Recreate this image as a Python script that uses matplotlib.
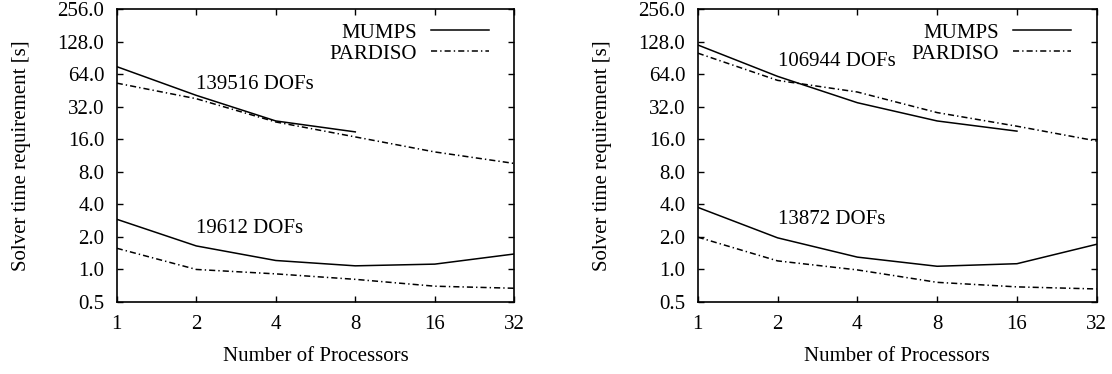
import matplotlib.pyplot as plt
from matplotlib.ticker import FixedLocator, FixedFormatter

plt.rcParams['font.family'] = ['Liberation Serif', 'DejaVu Serif']
plt.rcParams['font.size'] = 15

processors = [1, 2, 4, 8, 16, 32]
y_ticks = [0.5, 1, 2, 4, 8, 16, 32, 64, 128, 256]

# left panel
left_mumps_big = [75, 40.7, 23.6, 18.7]
left_pardiso_big = [52.8, 37.9, 23.1, 16.8, 12.2, 9.55]
left_mumps_small = [2.91, 1.65, 1.21, 1.08, 1.12, 1.39]
left_pardiso_small = [1.57, 1.0, 0.91, 0.81, 0.70, 0.67]
left_labels = ["139516 DOFs", "19612 DOFs"]
left_label_y = [51, 2.4]

# right panel
right_mumps_big = [119, 61, 34.8, 23.6, 19.0]
right_pardiso_big = [100, 56, 43.7, 28.2, 21.1, 15.4]
right_mumps_small = [3.75, 1.96, 1.30, 1.07, 1.13, 1.71]
right_pardiso_small = [1.99, 1.2, 0.99, 0.76, 0.69, 0.66]
right_labels = ["106944 DOFs", "13872 DOFs"]
right_label_y = [83, 2.9]

dashdot = (0, (4.0, 2.0, 0.9, 2.0))

fig = plt.figure(figsize=(11.12, 3.74), dpi=100)
ax_l = fig.add_axes([0.105, 0.1925, 0.3575, 0.7835])
ax_r = fig.add_axes([0.6275, 0.1925, 0.3588, 0.7835])


def draw_panel(ax, mumps_big, pardiso_big, mumps_small, pardiso_small, labels, label_y):
    ax.plot(processors[:len(mumps_big)], mumps_big, color='black', lw=1.1, label='MUMPS')
    ax.plot(processors, pardiso_big, color='black', lw=1.1, linestyle=dashdot, label='PARDISO')
    ax.plot(processors, mumps_small, color='black', lw=1.1)
    ax.plot(processors, pardiso_small, color='black', lw=1.1, linestyle=dashdot)

    for txt, y in zip(labels, label_y):
        ax.text(2, y, txt, ha='left', va='center')

    ax.set_xscale('log', base=2)
    ax.set_yscale('log', base=2)
    ax.set_xlim(1, 32)
    ax.set_ylim(0.5, 256)
    ax.xaxis.set_major_locator(FixedLocator(processors))
    ax.xaxis.set_major_formatter(FixedFormatter([str(p) for p in processors]))
    ax.xaxis.set_minor_locator(FixedLocator([]))
    ax.yaxis.set_major_locator(FixedLocator(y_ticks))
    ax.yaxis.set_major_formatter(FixedFormatter(["%.1f" % v for v in y_ticks]))
    ax.yaxis.set_minor_locator(FixedLocator([]))
    ax.tick_params(direction='in', length=4.3, width=1.0, top=True, right=True)
    ax.tick_params(axis='y', pad=9)
    ax.tick_params(axis='x', pad=9)
    for s in ax.spines.values():
        s.set_linewidth(1.2)

    ax.set_xlabel("Number of Processors", labelpad=10)
    ax.set_ylabel("Solver time requirement [s]", labelpad=19)
    ax.legend(loc='upper right', bbox_to_anchor=(0.952, 0.973), frameon=False, markerfirst=False,
              handlelength=2.8, handletextpad=0.67, borderaxespad=0.0, borderpad=0.3,
              labelspacing=0.06)


draw_panel(ax_l, left_mumps_big, left_pardiso_big, left_mumps_small, left_pardiso_small,
           left_labels, left_label_y)
draw_panel(ax_r, right_mumps_big, right_pardiso_big, right_mumps_small, right_pardiso_small,
           right_labels, right_label_y)

fig.savefig("out.png", dpi=100)
